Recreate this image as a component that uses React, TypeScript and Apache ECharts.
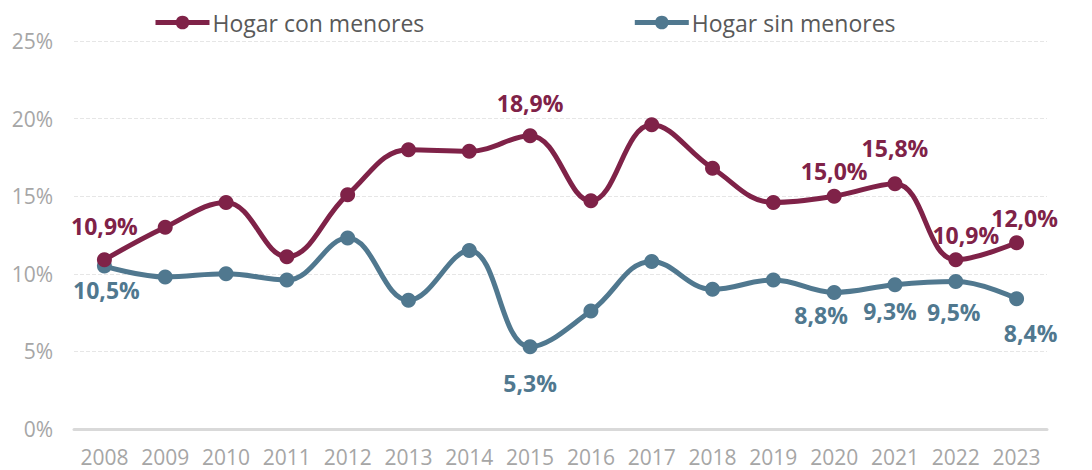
import React, { useEffect, useRef } from "react";
import * as echarts from "echarts";

const years = ["2008","2009","2010","2011","2012","2013","2014","2015","2016","2017","2018","2019","2020","2021","2022","2023"];
const conMenores = [10.9, 13.0, 14.6, 11.1, 15.1, 18.0, 17.9, 18.9, 14.7, 19.6, 16.8, 14.6, 15.0, 15.8, 10.9, 12.0];
const sinMenores = [10.5, 9.8, 10.0, 9.6, 12.3, 8.3, 11.5, 5.3, 7.6, 10.8, 9.0, 9.6, 8.8, 9.3, 9.5, 8.4];
const yTicks = [0, 5, 10, 15, 20, 25];

// which points carry a value label, and how far each label is nudged
const conLabelOffsets: Record<number, [number, number]> = { 0: [0, -10], 7: [0, -9], 12: [0, -1], 13: [0, -12], 14: [10, -1], 15: [8, -1] };
const sinLabelOffsets: Record<number, [number, number]> = { 0: [2, 0], 7: [0, 12], 12: [-13, -1], 13: [-5, 2], 14: [-2, 6], 15: [14, 10] };

const MAROON = "#7F2248";
const BLUE = "#50788F";
const FONT = "'Open Sans', 'Liberation Sans', Arial, sans-serif";

const fmt = (v: number) => v.toFixed(1).replace(".", ",") + "%";

function buildData(values: number[], offsets: Record<number, [number, number]>, color: string, pos: "top" | "bottom") {
  return values.map((v, i) => {
    const off = offsets[i];
    if (!off) return { value: v, label: { show: false } };
    return {
      value: v,
      label: {
        show: true,
        position: pos,
        distance: 5,
        offset: off,
        formatter: (p: any) => fmt(p.value),
        color,
        fontSize: 23,
        fontWeight: "bold",
        fontFamily: FONT,
      },
    };
  });
}

export default function App() {
  const ref = useRef<HTMLDivElement>(null);
  useEffect(() => {
    if (!ref.current) return;
    const chart = echarts.init(ref.current, undefined, { renderer: "svg" });
    chart.setOption({
      animation: false,
      backgroundColor: "#ffffff",
      legend: {
        top: 6,
        left: 148,
        itemGap: 208,
        itemWidth: 54,
        itemHeight: 17,
        lineStyle: { width: 5 },
        textStyle: { fontSize: 23, color: "#595959", fontFamily: FONT, padding: [0, 0, 0, -2] },
        data: ["Hogar con menores", "Hogar sin menores"],
      },
      grid: { left: 74, right: 45, top: 41, bottom: 41, containLabel: false },
      xAxis: {
        type: "category",
        data: years,
        boundaryGap: true,
        axisLine: { show: true, lineStyle: { color: "#D9D9D9", width: 3 } },
        axisTick: { show: false },
        axisLabel: { color: "#A6A6A6", fontSize: 21, fontFamily: FONT, margin: 17, interval: 0 },
      },
      yAxis: {
        type: "value",
        min: yTicks[0],
        max: yTicks[yTicks.length - 1],
        interval: 5,
        axisLine: { show: false },
        axisTick: { show: false },
        axisLabel: { color: "#A6A6A6", fontSize: 21, fontFamily: FONT, margin: 21, formatter: (v: number) => v + "%" },
        splitLine: { lineStyle: { color: "#E6E6E6", type: "dashed", width: 1 } },
      },
      series: [
        {
          name: "Hogar con menores",
          type: "line",
          smooth: 0.4,
          symbol: "circle",
          symbolSize: 15,
          lineStyle: { color: MAROON, width: 5 },
          itemStyle: { color: MAROON },
          data: buildData(conMenores, conLabelOffsets, MAROON, "top"),
          z: 3,
        },
        {
          name: "Hogar sin menores",
          type: "line",
          smooth: 0.4,
          symbol: "circle",
          symbolSize: 15,
          lineStyle: { color: BLUE, width: 5 },
          itemStyle: { color: BLUE },
          data: buildData(sinMenores, sinLabelOffsets, BLUE, "bottom"),
          z: 2,
        },
      ],
    });
    return () => chart.dispose();
  }, []);
  return <div ref={ref} style={{ width: 1092, height: 470, position: "absolute", left: 0, top: 0 }} />;
}
